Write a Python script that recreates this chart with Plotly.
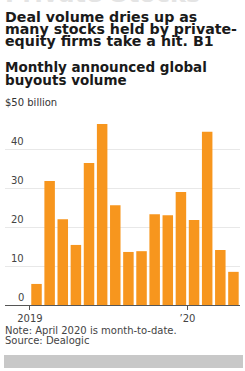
import plotly.graph_objects as go

months = ["Jan 2019", "Feb 2019", "Mar 2019", "Apr 2019", "May 2019", "Jun 2019",
          "Jul 2019", "Aug 2019", "Sep 2019", "Oct 2019", "Nov 2019", "Dec 2019",
          "Jan 2020", "Feb 2020", "Mar 2020", "Apr 2020"]
volume = [5.4, 31.8, 22.0, 15.4, 36.4, 46.4, 25.6, 13.6, 13.8, 23.3, 23.0, 29.0,
          21.8, 44.4, 14.1, 8.5]
ytick_vals = [0, 10, 20, 30, 40]
ytick_text = ["0", "10", "20", "30", "40"]
xtick_vals = [0, 12]
xtick_text = ["2019", "\u201920"]

W, H = 245, 371
L, R = 5, 5
TOP, BOT = 110, 305  # pixel rows of plot area


def py(ypix):
    return (BOT - ypix) / (BOT - TOP)


def px(xpix):
    return (xpix - L) / (W - L - R)


xpos = [i + 0.5 for i in range(len(volume))]

fig = go.Figure()
fig.add_trace(go.Bar(x=xpos, y=volume, width=0.8, marker_color="#F7961E",
                     marker_line_width=0, hovertext=months))

anns = []
title_lines = ["Deal volume dries up as", "many stocks held by private-",
               "equity firms take a hit. B1"]
for i, t in enumerate(title_lines):
    anns.append(dict(text=t, x=px(3), y=py(16.8 + 12.3 * i), xref="paper", yref="paper",
                     xanchor="left", yanchor="middle", showarrow=False,
                     font=dict(family="DejaVu Sans", size=14.2, color="#1a1a1a", weight="bold")))
sub_lines = ["Monthly announced global", "buyouts volume"]
for i, t in enumerate(sub_lines):
    anns.append(dict(text=t, x=px(3), y=py(67 + 13 * i), xref="paper", yref="paper",
                     xanchor="left", yanchor="middle", showarrow=False,
                     font=dict(family="DejaVu Sans", size=13.5, color="#1a1a1a", weight="bold")))
anns.append(dict(text="$50 billion", x=px(3), y=py(103), xref="paper", yref="paper",
                 xanchor="left", yanchor="middle", showarrow=False,
                 font=dict(family="DejaVu Sans", size=10, color="#333333")))
for v, t in zip(ytick_vals, ytick_text):
    anns.append(dict(text=t, x=px(26), y=v, xref="paper", yref="y",
                     xanchor="right", yanchor="bottom", showarrow=False,
                     font=dict(family="DejaVu Sans", size=10, color="#444444")))
notes = ["Note: April 2020 is month-to-date.", "Source: Dealogic"]
for i, t in enumerate(notes):
    anns.append(dict(text=t, x=px(3), y=py(330 + 10 * i), xref="paper", yref="paper",
                     xanchor="left", yanchor="middle", showarrow=False,
                     font=dict(family="DejaVu Sans", size=10, color="#444444")))
# faint cut-off header at very top
anns.append(dict(text="Private Stocks", x=px(3), y=py(10), xref="paper", yref="paper",
                 xanchor="left", yanchor="bottom", showarrow=False,
                 font=dict(family="DejaVu Sans", size=24, color="#e4e4e4", weight="bold")))

shapes = [dict(type="rect", xref="paper", yref="paper", x0=px(4), x1=px(243),
               y0=py(355), y1=py(368), fillcolor="#c8c8c8", line_width=0, layer="above")]

fig.update_layout(
    width=W, height=H,
    margin=dict(l=L, r=R, t=TOP, b=H - BOT, pad=0),
    paper_bgcolor="white", plot_bgcolor="white",
    showlegend=False,
    annotations=anns, shapes=shapes,
    xaxis=dict(range=[-1.9, 16], tickvals=xtick_vals, ticktext=xtick_text,
               ticks="outside", ticklen=4, tickcolor="#555555", tickwidth=1,
               showline=True, linecolor="#555555", linewidth=1,
               showgrid=False, zeroline=False,
               tickfont=dict(family="DejaVu Sans", size=10, color="#444444")),
    yaxis=dict(range=[0, 50], tickvals=[10, 20, 30, 40, 50], showticklabels=False,
               showgrid=True, gridcolor="#e8e8e8", gridwidth=1, zeroline=False,
               showline=False, fixedrange=True),
)

fig.write_html("out.html", config={"displayModeBar": False},
               post_script="document.body.style.margin='0';document.body.style.padding='0';"
                           "document.body.style.overflow='hidden';")
